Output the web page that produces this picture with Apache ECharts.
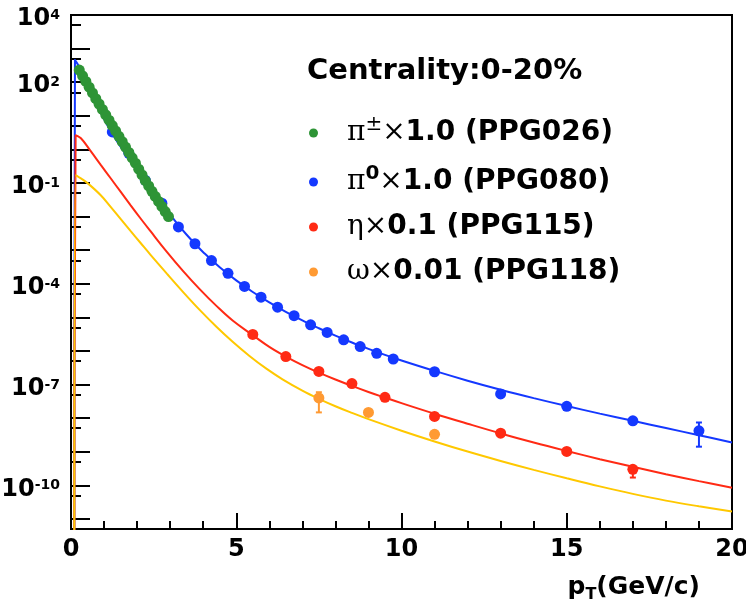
<!DOCTYPE html>
<html><head><meta charset="utf-8">
<script src="https://cdn.jsdelivr.net/npm/echarts@6/dist/echarts.min.js"></script>
<style>html,body{margin:0;padding:0;background:#fff}#c{width:746px;height:609px}</style>
</head><body><div id="c"></div>
<script>
// ---- data (pT in GeV/c, yields) ----
const piChPt = [0.25,0.35,0.45,0.55,0.65,0.75,0.85,0.95,1.05,1.15,1.25,1.35,1.45,1.55,1.65,1.75,1.85,1.95,2.05,2.15,2.25,2.35,2.45,2.55,2.65,2.75,2.85,2.95];
const piChY  = [229,155,105,70.8,47.9,32.4,22.4,15.5,10.7,7.41,5.13,3.55,2.45,1.70,1.17,0.813,0.562,0.389,0.257,0.174,0.117,0.0813,0.0562,0.0398,0.0282,0.0200,0.0141,0.0100];

const pi0Pt = [1.25,1.75,2.25,2.75,3.25,3.75,4.25,4.75,5.25,5.75,6.25,6.75,7.25,7.75,8.25,8.75,9.25,9.75,11,13,15,17,19];
const pi0Y  = [3.31,0.76,0.120,0.0251,4.9e-3,1.55e-3,4.9e-4,2.04e-4,8.3e-5,3.98e-5,2.0e-5,1.12e-5,6.0e-6,3.55e-6,2.14e-6,1.35e-6,8.5e-7,5.75e-7,2.4e-7,5.25e-8,2.24e-8,8.3e-9,4.17e-9];
const pi0ErrPt = [19], pi0ErrLo = [1.41e-9], pi0ErrHi = [7.4e-9];

const etaPt = [5.5,6.5,7.5,8.5,9.5,11,13,15,17];
const etaY  = [3.1e-6,6.8e-7,2.45e-7,1.07e-7,4.17e-8,1.12e-8,3.55e-9,1.02e-9,3.0e-10];
const etaErrPt = [17], etaErrLo = [1.7e-10], etaErrHi = [3.55e-10];

const omegaPt = [7.5,9,11];
const omegaY  = [3.98e-8,1.48e-8,3.3e-9];
const omegaErrPt = [7.5], omegaErrLo = [1.48e-8], omegaErrHi = [5.9e-8];

// fit curves
const pi0FitPt = [0.10,0.12,0.25,0.5,0.75,1.0,1.25,1.5,1.75,2.0,2.25,2.5,2.75,3.0,3.25,3.5,3.75,4.0,4.5,5.0,5.5,6.0,6.5,7.0,7.5,8.0,8.5,9.0,9.5,10,11,12,13,14,15,16,17,18,19,20];
const pi0FitY  = [1e-13,457,282,89,26.9,7.94,2.9,1.2,0.55,0.251,0.1175,0.0537,0.0245,0.01135,5.56e-3,2.88e-3,1.55e-3,8.7e-4,3.09e-4,1.26e-4,5.69e-5,2.79e-5,1.46e-5,8.1e-6,4.73e-6,2.85e-6,1.78e-6,1.15e-6,7.6e-7,5.19e-7,2.54e-7,1.30e-7,7.0e-8,3.94e-8,2.29e-8,1.36e-8,8.3e-9,5.07e-9,3.09e-9,1.88e-9];

const etaFitPt = [0.10,0.14,0.3,0.58,0.9,1.2,1.5,1.8,2.1,2.4,2.9,3.4,3.9,4.4,4.9,5.5,6.0,6.5,7.0,7.5,8.0,8.5,9.0,9.5,10,11,12,13,14,15,16,17,18,19,20];
const etaFitY  = [1e-13,2.63,2.14,0.933,0.347,0.138,0.055,0.0219,8.9e-3,3.72e-3,8.9e-4,2.34e-4,6.8e-5,2.19e-5,7.9e-6,2.95e-6,1.32e-6,6.8e-7,3.8e-7,2.26e-7,1.41e-7,9.1e-8,6.0e-8,4.07e-8,2.79e-8,1.35e-8,6.8e-9,3.5e-9,1.88e-9,1.05e-9,6.0e-10,3.55e-10,2.14e-10,1.33e-10,8.5e-11];

const omegaFitPt = [0.10,0.14,0.3,0.5,0.9,1.2,1.5,1.8,2.1,2.4,2.9,3.4,3.9,4.4,4.9,5.4,5.9,6.4,7.0,7.5,8.0,8.5,9.0,10,11,12,13,14,15,16,17,18,19,20];
const omegaFitY  = [1e-13,0.17,0.1365,0.0989,0.0432,0.0195,8.5e-3,3.72e-3,1.66e-3,7.4e-4,2.0e-4,5.56e-5,1.64e-5,5.25e-6,1.84e-6,7.1e-7,3.02e-7,1.43e-7,6.6e-8,3.76e-8,2.26e-8,1.43e-8,9.3e-9,4.22e-9,2.02e-9,1.01e-9,5.3e-10,2.88e-10,1.62e-10,9.3e-11,5.56e-11,3.5e-11,2.37e-11,1.66e-11];

const yMajorTicks = [1e-11,1e-10,1e-9,1e-8,1e-7,1e-6,1e-5,1e-4,1e-3,1e-2,1e-1,1,10,100,1000,10000];
const yMinorTicks = [5e-11,5e-10,5e-9,5e-8,5e-7,5e-6,5e-5,5e-4,5e-3,5e-2,0.5,5,50,500,5000];
const yLabelTicks = [1e-10,1e-7,1e-4,1e-1,100,10000];
const xTicks = [0,5,10,15,20];

const seriesNames = ['π±×1.0 (PPG026)','π0×1.0 (PPG080)','η×0.1 (PPG115)','ω×0.01 (PPG118)'];
const legendRichText = {
  'π±×1.0 (PPG026)': '{sp|}{g|π}{sr|±}{g|×}{b|1.0 (PPG026)}',
  'π0×1.0 (PPG080)': '{sp|}{g|π}{sb|0}{g|×}{b|1.0 (PPG080)}',
  'η×0.1 (PPG115)': '{sp|}{g|η×}{b|0.1 (PPG115)}',
  'ω×0.01 (PPG118)': '{sp|}{g|ω×}{b|0.01 (PPG118)}'
};

const C_GREEN = '#2e9436', C_BLUE = '#1438ff', C_RED = '#ff2a14', C_ORANGE = '#ff9a33', C_YELLOW = '#ffc800';
const FONT = 'DejaVu Sans';

function zip(a, b) { return a.map((v, i) => [v, b[i]]); }
function errSeries(pts, lo, hi, color) {
  return {
    type: 'custom', silent: true, z: 5,
    data: pts.map((x, i) => [x, lo[i], hi[i]]),
    encode: { x: 0, y: [1, 2] },
    renderItem: function (params, api) {
      const x = api.value(0);
      const a = api.coord([x, api.value(1)]);
      const b = api.coord([x, api.value(2)]);
      const st = { stroke: color, lineWidth: 2 };
      return { type: 'group', children: [
        { type: 'line', shape: { x1: a[0], y1: a[1], x2: b[0], y2: b[1] }, style: st },
        { type: 'line', shape: { x1: a[0] - 3, y1: a[1], x2: a[0] + 3, y2: a[1] }, style: st },
        { type: 'line', shape: { x1: b[0] - 3, y1: b[1], x2: b[0] + 3, y2: b[1] }, style: st }
      ]};
    }
  };
}
function fitSeries(pt, y, color) {
  return { type: 'line', data: zip(pt, y), showSymbol: false, symbol: 'none', smooth: 0.4,
    lineStyle: { color: color, width: 2 }, z: 2, silent: true };
}
function ptSeries(name, pt, y, color, z) {
  return { type: 'scatter', name: name, data: zip(pt, y), symbol: 'circle', symbolSize: 11,
    itemStyle: { color: color, opacity: 1 }, z: z, silent: true };
}

const chart = echarts.init(document.getElementById('c'), null, { renderer: 'canvas' });
chart.setOption({
  animation: false,
  backgroundColor: '#fff',
  title: {
    text: 'Centrality:0-20%', left: 302, top: 52,
    textStyle: { fontFamily: FONT, fontWeight: 'bold', fontSize: 29, color: '#000' }
  },
  legend: {
    data: seriesNames, orient: 'vertical', left: 304, top: 110, itemGap: 17,
    itemWidth: 9, itemHeight: 9, icon: 'circle', selectedMode: false,
    formatter: function (n) { return legendRichText[n]; },
    textStyle: {
      color: '#000',
      rich: {
        sp: { width: 24, lineHeight: 36 },
        g: { fontFamily: 'DejaVu Serif', fontSize: 28, lineHeight: 36, color: '#000' },
        b: { fontFamily: FONT, fontWeight: 'bold', fontSize: 28, lineHeight: 36, color: '#000' },
        sr: { fontFamily: 'DejaVu Serif', fontSize: 20, lineHeight: 24, verticalAlign: 'top', color: '#000' },
        sb: { fontFamily: FONT, fontWeight: 'bold', fontSize: 20, lineHeight: 24, verticalAlign: 'top', color: '#000' }
      }
    }
  },
  grid: { left: 71, right: 14, top: 15, bottom: 80, outerBoundsMode: 'none', containLabel: false,
    show: true, borderColor: '#000', borderWidth: 2, backgroundColor: 'transparent' },
  xAxis: {
    type: 'value', min: 0, max: 20, interval: 5,
    axisLine: { show: true, onZero: false, lineStyle: { color: '#000', width: 2 } },
    axisTick: { show: true, inside: true, length: 16, lineStyle: { color: '#000', width: 2 } },
    minorTick: { show: true, splitNumber: 5, length: 8, lineStyle: { color: '#000', width: 2 } },
    axisLabel: { margin: 9, color: '#000', fontFamily: FONT, fontWeight: 'bold', fontSize: 24, customValues: xTicks },
    splitLine: { show: false }
  },
  yAxis: [{
    type: 'log', logBase: 10, min: 5e-12, max: 1e4,
    axisLine: { show: true, lineStyle: { color: '#000', width: 2 } },
    axisTick: { show: true, inside: true, length: 19, lineStyle: { color: '#000', width: 2 }, customValues: yMajorTicks },
    axisLabel: {
      show: true, margin: 11, customValues: yLabelTicks,
      formatter: function (v) { const e = Math.round(Math.log10(v)); return '{b|10}{s|' + e + '}'; },
      rich: {
        b: { fontFamily: FONT, fontWeight: 'bold', fontSize: 24, lineHeight: 27, padding: [8, 0, 0, 0], color: '#000' },
        s: { fontFamily: FONT, fontWeight: 'bold', fontSize: 14, lineHeight: 16, padding: [7, 0, 0, 0], verticalAlign: 'top', color: '#000' }
      }
    },
    splitLine: { show: false }
  }, {
    type: 'log', logBase: 10, min: 5e-12, max: 1e4, position: 'left',
    axisLine: { show: false },
    axisTick: { show: true, inside: true, length: 10, lineStyle: { color: '#000', width: 2 }, customValues: yMinorTicks },
    axisLabel: { show: false },
    splitLine: { show: false }
  }],
  graphic: [{
    type: 'text', right: 46, top: 575,
    style: {
      text: '{b|p}{t|T}{b|(GeV/c)}',
      rich: {
        b: { fontFamily: FONT, fontWeight: 'bold', fontSize: 25, lineHeight: 30, fill: '#000' },
        t: { fontFamily: FONT, fontWeight: 'bold', fontSize: 16, lineHeight: 18, verticalAlign: 'bottom', fill: '#000' }
      }
    }
  }],
  series: [
    fitSeries(pi0FitPt, pi0FitY, C_BLUE),
    fitSeries(etaFitPt, etaFitY, C_RED),
    fitSeries(omegaFitPt, omegaFitY, C_YELLOW),
    errSeries(pi0ErrPt, pi0ErrLo, pi0ErrHi, C_BLUE),
    errSeries(etaErrPt, etaErrLo, etaErrHi, C_RED),
    errSeries(omegaErrPt, omegaErrLo, omegaErrHi, C_ORANGE),
    ptSeries(seriesNames[1], pi0Pt, pi0Y, C_BLUE, 3),
    ptSeries(seriesNames[2], etaPt, etaY, C_RED, 3),
    ptSeries(seriesNames[3], omegaPt, omegaY, C_ORANGE, 3),
    ptSeries(seriesNames[0], piChPt, piChY, C_GREEN, 4)
  ]
});
</script>
</body></html>
